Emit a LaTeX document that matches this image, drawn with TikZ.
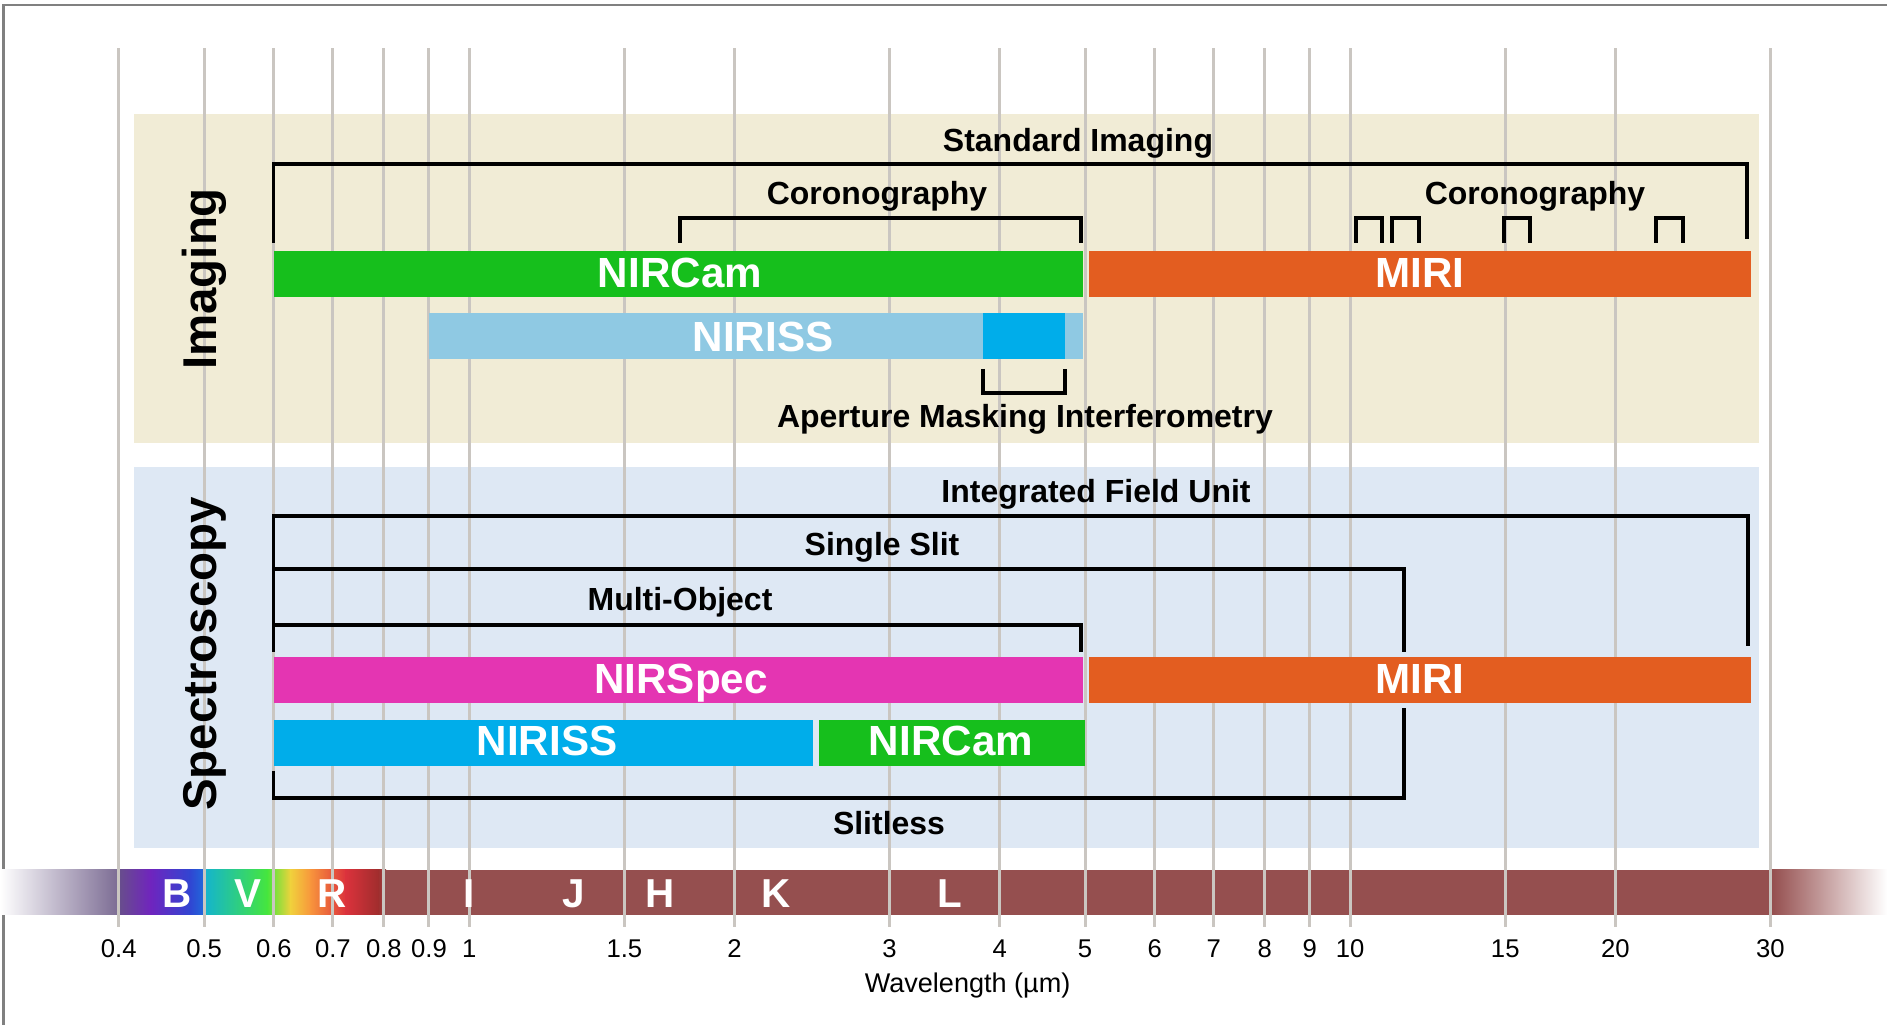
\documentclass[tikz,border=0pt]{standalone}
\usepackage{fontspec}
\setmainfont{Liberation Sans}
\usepackage{tikz}
\tikzset{>=latex}
\definecolor{mybeige}{RGB}{241, 236, 214}
\definecolor{mypale}{RGB}{222, 232, 244}
\definecolor{mygray}{RGB}{202, 198, 193}
\definecolor{mygreen}{RGB}{22, 191, 28}
\definecolor{myorange}{RGB}{227, 93, 32}
\definecolor{mysky}{RGB}{143, 201, 227}
\definecolor{mycyan}{RGB}{0, 173, 234}
\definecolor{mymagenta}{RGB}{228, 53, 178}
\definecolor{mybrown}{RGB}{149, 79, 79}
\definecolor{spA}{RGB}{122, 106, 146}
\definecolor{spB}{RGB}{104, 78, 140}
\definecolor{spC}{RGB}{112, 36, 190}
\definecolor{spD}{RGB}{48, 70, 210}
\definecolor{spE}{RGB}{30, 110, 220}
\definecolor{spF}{RGB}{20, 180, 205}
\definecolor{spG}{RGB}{70, 230, 60}
\definecolor{spH}{RGB}{240, 210, 60}
\definecolor{spI}{RGB}{248, 150, 60}
\definecolor{spJ}{RGB}{220, 50, 60}
\definecolor{spK}{RGB}{160, 45, 45}
\tikzset{
  declare function = {wl(\l) = 4.693 + 8.809*log10(\l);},
  wlline/.style = {mygray, line width = 0.85pt},
  brk/.style = {line width = 0.9pt},
  lab/.style = {anchor = base, font = \fontsize{9.1}{11}\selectfont\bfseries},
  barlab/.style = {anchor = base, white, font = \fontsize{12}{14}\selectfont\bfseries},
  bandlab/.style = {anchor = base, white, font = \fontsize{11.5}{13}\selectfont\bfseries},
  modelab/.style = {anchor = base, rotate = 90, font = \fontsize{13.5}{15}\selectfont\bfseries},
  ticklab/.style = {anchor = base, font = \fontsize{7.3}{9}\selectfont}
}

\begin{document}
\begin{tikzpicture}

\useasboundingbox (0, 0) rectangle (18.87, 10.25);
\draw[gray, line width = 0.6pt] (0.035, 0) -- (0.035, 10.20) -- (18.87, 10.20);

% panels
\fill[mybeige] (1.336, 5.82) rectangle (17.59, 9.11);
\fill[mypale] (1.336, 1.77) rectangle (17.59, 5.58);

% spectrum
\shade[left color = white, right color = spA] (0, 1.10) rectangle (1.20, 1.55);
\shade[left color = spB, right color = spC] (1.19, 1.10) rectangle (1.51, 1.55);
\shade[left color = spC, right color = spD] (1.50, 1.10) rectangle (1.91, 1.55);
\shade[left color = spD, right color = spE] (1.90, 1.10) rectangle (2.06, 1.55);
\shade[left color = spF, right color = spG] (2.05, 1.10) rectangle (2.68, 1.55);
\shade[left color = spG, right color = spH] (2.67, 1.10) rectangle (2.91, 1.55);
\shade[left color = spH, right color = spI] (2.90, 1.10) rectangle (3.11, 1.55);
\shade[left color = spI, right color = spJ] (3.10, 1.10) rectangle (3.46, 1.55);
\shade[left color = spJ, right color = spK] (3.45, 1.10) rectangle (3.79, 1.55);
\shade[left color = spK, right color = mybrown] (3.78, 1.10) rectangle (3.86, 1.55);
\fill[mybrown] (3.85, 1.10) rectangle (17.73, 1.55);
\shade[left color = mybrown, right color = white] (17.72, 1.10) rectangle (18.87, 1.55);

\foreach \l [count = \i] in {0.4, 0.5, 0.6, 0.7, 0.8, 0.9, 1, 1.5, 2, 3, 4, 5, 6, 7, 8, 9, 10, 15, 20, 30}
{
  \draw[wlline] ({wl(\l)}, 0.98) -- ({wl(\l)}, 9.77);
  \node[ticklab] (tick\i) at ({wl(\l)}, 0.67) {\l};
}
\node[anchor = base, font = \fontsize{7.7}{9}\selectfont] (wavelabel) at (9.676, 0.32) {Wavelength (µm)};

\node[bandlab] (bandB) at (1.767, 1.17) {B};
\node[bandlab] (bandV) at (2.475, 1.17) {V};
\node[bandlab] (bandR) at (3.325, 1.17) {R};
\node[bandlab] (bandI) at (4.69, 1.17) {I};
\node[bandlab] (bandJ) at (5.74, 1.17) {J};
\node[bandlab] (bandH) at (6.60, 1.17) {H};
\node[bandlab] (bandK) at (7.76, 1.17) {K};
\node[bandlab] (bandL) at (9.50, 1.17) {L};

\begin{scope}
% imaging
\node[modelab] (imaging) at (2.16, 7.46) {Imaging};
\draw[brk] (2.739, 7.82) -- (2.739, 8.61) -- (17.47, 8.61) -- (17.47, 7.86);
\node[lab] (stdimg) at (10.78, 8.73) {Standard Imaging};
\draw[brk] (6.80, 7.82) -- (6.80, 8.07) -- (10.81, 8.07) -- (10.81, 7.82);
\node[lab] (corona) at (8.77, 8.20) {Coronography};
\draw[brk] (13.56, 7.82) -- (13.56, 8.07) -- (13.82, 8.07) -- (13.82, 7.82);
\draw[brk] (13.92, 7.82) -- (13.92, 8.07) -- (14.19, 8.07) -- (14.19, 7.82);
\draw[brk] (15.04, 7.82) -- (15.04, 8.07) -- (15.30, 8.07) -- (15.30, 7.82);
\draw[brk] (16.56, 7.82) -- (16.56, 8.07) -- (16.83, 8.07) -- (16.83, 7.82);
\node[lab] (coronb) at (15.35, 8.20) {Coronography};

\fill[mygreen] (2.739, 7.28) rectangle (10.83, 7.74);
\node[barlab] (nircam) at (6.80, 7.37) {NIRCam};
\fill[myorange] (10.89, 7.28) rectangle (17.51, 7.74);
\node[barlab] (miri) at (14.20, 7.37) {MIRI};
\fill[mysky] (4.290, 6.66) rectangle (10.83, 7.12);
\fill[mycyan] (9.83, 6.66) rectangle (10.65, 7.12);
\node[barlab] (niriss) at (7.63, 6.73) {NIRISS};

\draw[brk] (9.83, 6.56) -- (9.83, 6.32) -- (10.65, 6.32) -- (10.65, 6.56);
\node[lab] (ami) at (10.25, 5.97) {Aperture Masking Interferometry};
\end{scope}

\begin{scope}
% spectroscopy
\node[modelab] (spectro) at (2.16, 3.71) {Spectroscopy};
\draw[brk] (2.739, 3.73) -- (2.739, 5.09) -- (17.48, 5.09) -- (17.48, 3.79);
\node[lab] (ifu) at (10.96, 5.22) {Integrated Field Unit};
\draw[brk] (2.739, 4.56) -- (14.04, 4.56) -- (14.04, 3.73);
\node[lab] (slit) at (8.82, 4.69) {Single Slit};
\draw[brk] (2.739, 4.00) -- (10.81, 4.00) -- (10.81, 3.73);
\node[lab] (mos) at (6.80, 4.14) {Multi-Object};

\fill[mymagenta] (2.739, 3.22) rectangle (10.83, 3.68);
\node[barlab] (nirspec) at (6.81, 3.31) {NIRSpec};
\fill[myorange] (10.89, 3.22) rectangle (17.51, 3.68);
\node[barlab] (mirispec) at (14.20, 3.31) {MIRI};
\fill[mycyan] (2.739, 2.59) rectangle (8.13, 3.05);
\node[barlab] (nirissspec) at (5.47, 2.69) {NIRISS};
\fill[mygreen] (8.19, 2.59) rectangle (10.85, 3.05);
\node[barlab] (nircamspec) at (9.51, 2.69) {NIRCam};

\draw[brk] (2.739, 2.54) -- (2.739, 2.27) -- (14.04, 2.27) -- (14.04, 3.17);
\node[lab] (slitless) at (8.89, 1.90) {Slitless};
\end{scope}

\end{tikzpicture}
\end{document}
